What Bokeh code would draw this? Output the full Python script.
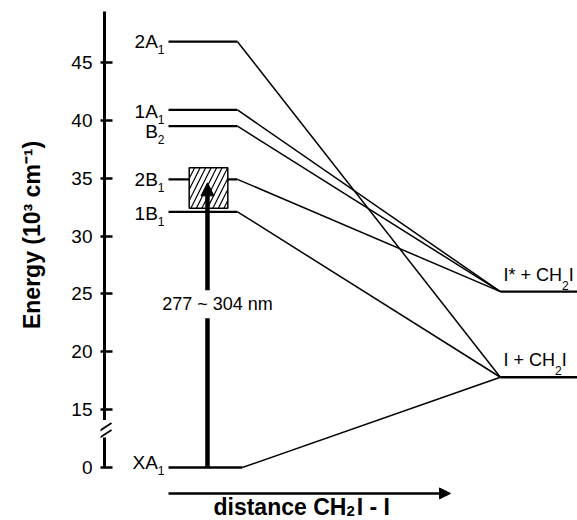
import numpy as np
from bokeh.plotting import figure
from bokeh.layouts import row
from bokeh.models import Range1d, FixedTicker, Label, Arrow, NormalHead, ColumnDataSource
from bokeh.core.properties import value
from bokeh.embed import file_html
from bokeh.resources import INLINE

# ---------------- data ----------------
state_base = ["2A", "1A", "B", "2B", "1B", "XA"]
state_sub = ["1", "1", "2", "1", "1", "1"]
state_energy = [46.8, 40.9, 39.5, 34.9, 32.1, 0.0]          # 10^3 cm^-1
state_channel = ["I", "I*", "I*", "I*", "I", "I"]           # dissociation limit
plateau_end = [1.0, 1.0, 1.0, 1.0, 1.0, 1.07]               # distance units

channel_names = ["I*", "I"]
channel_base = ["I* + CH", "I + CH"]
channel_sub = ["2", "2"]
channel_tail = ["I", "I"]
channel_energy = [25.2, 17.8]
channel_distance = 4.81

tick_values = [0, 15, 20, 25, 30, 35, 40, 45]
tick_labels = ["0", "15", "20", "25", "30", "35", "40", "45"]

band_energy = [32.4, 35.9]        # hatched absorption band (2B1 region)
band_distance = [0.30, 0.86]
excite_distance = 0.565
excite_top = 34.6
excite_text = "277 ~ 304 nm"

y_title = "Energy (10³ cm⁻¹)"
y_title_center = 30.1

# label nudges (pixels, screen down positive) to avoid overlaps
label_nudge = [0, 2, 5, 0, 1.5, -5]


def ax(e):
    """axis break: 0..15 compressed to 10..15"""
    return e if e >= 15 else 10 + e / 3.0


# Arial / Liberation Sans advance widths (per em)
W = {" ": .278, "*": .389, "+": .584, "C": .722, "H": .722, "I": .278,
     "-": .333, "1": .556, "2": .556}
WB = {" ": .278, "d": .611, "i": .278, "s": .556, "t": .333, "a": .556,
      "n": .611, "c": .556, "e": .556, "C": .722, "H": .722, "I": .278, "-": .333, "2": .556}


def width(s, size, table):
    return sum(table.get(ch, .556) for ch in s) * size


X0, X1 = -0.9855, 5.928
Y0, Y1 = 5.42, 50.36
FONT = "Liberation Sans"
LEFT_W = 60

# ---------- narrow panel holding the rotated y title ----------
t = figure(width=LEFT_W, height=520, x_range=Range1d(0, LEFT_W), y_range=Range1d(Y0, Y1),
           output_backend="svg", toolbar_location=None, x_axis_location=None, y_axis_location=None,
           min_border_left=0, min_border_right=0, min_border_top=0, min_border_bottom=0)
t.grid.visible = False
t.outline_line_color = None
t.text(x=[31], y=[y_title_center], text=[y_title], angle=np.pi / 2, text_align="center",
       text_baseline="middle", text_font=value(FONT), text_font_style="bold",
       text_font_size="23px", text_color="black")

# ---------- main diagram ----------
p = figure(width=577 - LEFT_W, height=520, x_range=Range1d(X0, X1), y_range=Range1d(Y0, Y1),
           output_backend="svg", toolbar_location=None, x_axis_location=None,
           min_border_left=100 - LEFT_W, min_border_right=0, min_border_top=0, min_border_bottom=0)
p.grid.visible = False
p.outline_line_color = None

yax = p.yaxis[0]
yax.ticker = FixedTicker(ticks=[ax(v) for v in tick_values])
yax.major_label_overrides = {ax(v): lab for v, lab in zip(tick_values, tick_labels)}
yax.axis_line_color = None
yax.major_tick_in = 12
yax.major_tick_out = 0
yax.major_tick_line_width = 2.5
yax.major_tick_line_color = "black"
yax.minor_tick_line_color = None
yax.major_label_text_font = FONT
yax.major_label_text_font_size = "19px"
yax.major_label_text_color = "black"
yax.major_label_standoff = 8

# spine with break
sx = -0.9275
p.segment(x0=[sx, sx], x1=[sx, sx], y0=[49.4, 12.6], y1=[14.1, ax(0) - 0.02],
          line_width=3, color="black")
dxs = 7.0 / 69.0
p.segment(x0=[sx - dxs, sx - dxs], x1=[sx + dxs, sx + dxs],
          y0=[13.05, 12.45], y1=[13.85, 13.25],
          line_width=1.8, color="black")

# levels
ys = [ax(e) for e in state_energy]
p.segment(x0=[0] * len(ys), x1=plateau_end, y0=ys, y1=ys, line_width=2.3, color="black")
ch_e = dict(zip(channel_names, channel_energy))
p.segment(x0=plateau_end, y0=ys, x1=[channel_distance] * len(ys),
          y1=[ch_e[c] for c in state_channel], line_width=1.5, color="black")
p.segment(x0=[channel_distance] * 2, x1=[X1 + 0.2] * 2, y0=channel_energy, y1=channel_energy,
          line_width=2.3, color="black")

# hatched band
p.quad(left=[band_distance[0]], right=[band_distance[1]], bottom=[band_energy[0]], top=[band_energy[1]],
       fill_color="white", line_color="black", line_width=1.5,
       hatch_pattern="/", hatch_scale=11, hatch_weight=1.2, hatch_color="black")

# excitation arrow
p.add_layout(Arrow(x_start=excite_distance, y_start=ax(0), x_end=excite_distance, y_end=excite_top,
                   line_width=4.5, line_color="black",
                   end=NormalHead(size=13, fill_color="black", line_color="black", line_width=1)))
p.add_layout(Label(x=0.71, y=24.1, text=excite_text, text_align="center", text_baseline="middle",
                   text_font=FONT, text_font_size="18px", text_color="black",
                   background_fill_color="white", padding=4))

# state labels
sub_w = [width(s, 12, W) for s in state_sub]
src = ColumnDataSource(dict(x=[0] * len(ys), y=ys, base=state_base, sub=state_sub,
                            bo=[-4 - w for w in sub_w], by=label_nudge,
                            sy=[n + 8 for n in label_nudge]))
p.text(x="x", y="y", text="base", x_offset="bo", y_offset="by", source=src,
       text_align="right", text_baseline="middle", text_font=value(FONT),
       text_font_size="19px", text_color="black")
p.text(x="x", y="y", text="sub", x_offset=-4, y_offset="sy", source=src,
       text_align="right", text_baseline="middle", text_font=value(FONT),
       text_font_size="12px", text_color="black")

# channel labels
cx = 4.855
cfs = 18
bw = [width(s, cfs, W) for s in channel_base]
csrc = ColumnDataSource(dict(x=[cx] * 2, y=channel_energy, base=channel_base, sub=channel_sub,
                             tail=channel_tail, so=bw, to=[w + width("2", 12, W) for w in bw]))
p.text(x="x", y="y", text="base", source=csrc, y_offset=-7, text_align="left", text_baseline="bottom",
       text_font=value(FONT), text_font_size=f"{cfs}px", text_color="black")
p.text(x="x", y="y", text="sub", source=csrc, x_offset="so", y_offset=-2, text_align="left",
       text_baseline="bottom", text_font=value(FONT), text_font_size="12px", text_color="black")
p.text(x="x", y="y", text="tail", source=csrc, x_offset="to", y_offset=-7, text_align="left",
       text_baseline="bottom", text_font=value(FONT), text_font_size=f"{cfs}px", text_color="black")

# x axis arrow and label
p.add_layout(Arrow(x_start=0.0, y_start=7.76, x_end=4.087, y_end=7.76, line_width=2.5, line_color="black",
                   end=NormalHead(size=11, fill_color="black", line_color="black", line_width=1)))
xl_base, xl_sub, xl_tail = "distance CH", "2", "I - I"
xs = 23
wb = width(xl_base, xs, WB)
ws = width(xl_sub, 15, WB)
xsrc = ColumnDataSource(dict(x=[0.652], y=[6.55]))
p.text(x="x", y="y", text=value(xl_base), source=xsrc, text_align="left", text_baseline="middle",
       text_font=value(FONT), text_font_style="bold", text_font_size=f"{xs}px", text_color="black")
p.text(x="x", y="y", text=value(xl_sub), source=xsrc, x_offset=wb, y_offset=4, text_align="left",
       text_baseline="middle", text_font=value(FONT), text_font_style="bold", text_font_size="15px",
       text_color="black")
p.text(x="x", y="y", text=value(xl_tail), source=xsrc, x_offset=wb + ws + 2, text_align="left",
       text_baseline="middle", text_font=value(FONT), text_font_style="bold", text_font_size=f"{xs}px",
       text_color="black")

layout = row(t, p)
open("out.html", "w").write(file_html(layout, INLINE))
